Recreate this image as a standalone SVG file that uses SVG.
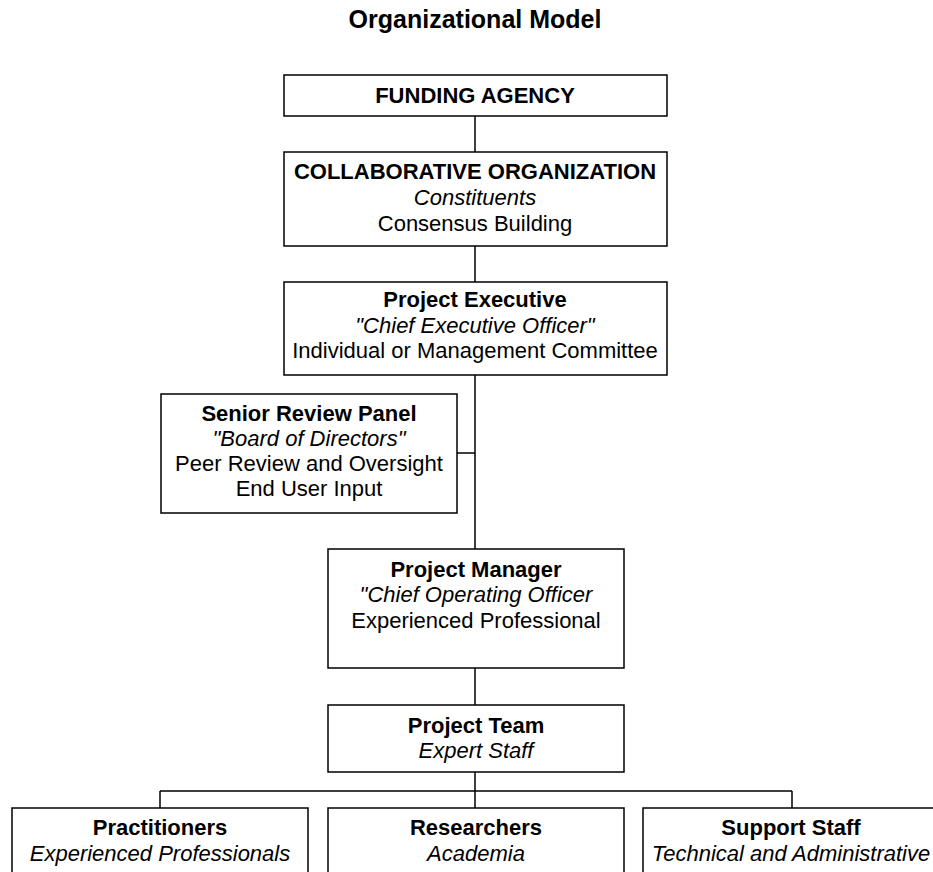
<svg xmlns="http://www.w3.org/2000/svg" width="933" height="872" viewBox="0 0 933 872">
<style>
rect.box{fill:#fff;stroke:#000;stroke-width:1.5}
.c{stroke:#000;stroke-width:1.5;fill:none}
text{font-family:"Liberation Sans",Arial,sans-serif;font-size:22px;text-anchor:middle;fill:#000}
.b{font-weight:bold}
.i{font-style:italic}
.title{font-size:25px;font-weight:bold}
</style>
<rect width="933" height="872" fill="#fff"/>
<text class="title" x="475" y="28">Organizational Model</text>
<g id="connectors">
<path class="c" d="M475 116V152M475 246V282M475 375V549M457 453H475M475 668V705M475 772V808M160 791H792M160 791V808M792 791V808"/>
</g>
<g id="funding"><rect class="box" x="284" y="75" width="383" height="41"/><text class="b" x="475" y="103">FUNDING AGENCY</text></g>
<g id="collab"><rect class="box" x="284" y="152" width="383" height="94"/><text class="b" x="475" y="179">COLLABORATIVE ORGANIZATION</text><text class="i" x="475" y="205">Constituents</text><text x="475" y="231">Consensus Building</text></g>
<g id="exec"><rect class="box" x="284" y="282" width="383" height="93"/><text class="b" x="475" y="307">Project Executive</text><text class="i" x="475" y="333">"Chief Executive Officer"</text><text x="475" y="358">Individual or Management Committee</text></g>
<g id="review"><rect class="box" x="161" y="394" width="296" height="119"/><text class="b" x="309" y="421">Senior Review Panel</text><text class="i" x="309" y="446">"Board of Directors"</text><text x="309" y="471">Peer Review and Oversight</text><text x="309" y="496">End User Input</text></g>
<g id="manager"><rect class="box" x="328" y="549" width="296" height="119"/><text class="b" x="476" y="577">Project Manager</text><text class="i" x="476" y="602">"Chief Operating Officer</text><text x="476" y="628">Experienced Professional</text></g>
<g id="team"><rect class="box" x="328" y="705" width="296" height="67"/><text class="b" x="476" y="733">Project Team</text><text class="i" x="476" y="758">Expert Staff</text></g>
<g id="practitioners"><rect class="box" x="12" y="808" width="296" height="90"/><text class="b" x="160" y="835">Practitioners</text><text class="i" x="160" y="861">Experienced Professionals</text></g>
<g id="researchers"><rect class="box" x="328" y="808" width="296" height="90"/><text class="b" x="476" y="835">Researchers</text><text class="i" x="476" y="861">Academia</text></g>
<g id="support"><rect class="box" x="643" y="808" width="296" height="90"/><text class="b" x="791" y="835">Support Staff</text><text class="i" x="791" y="861">Technical and Administrative</text></g>
</svg>
